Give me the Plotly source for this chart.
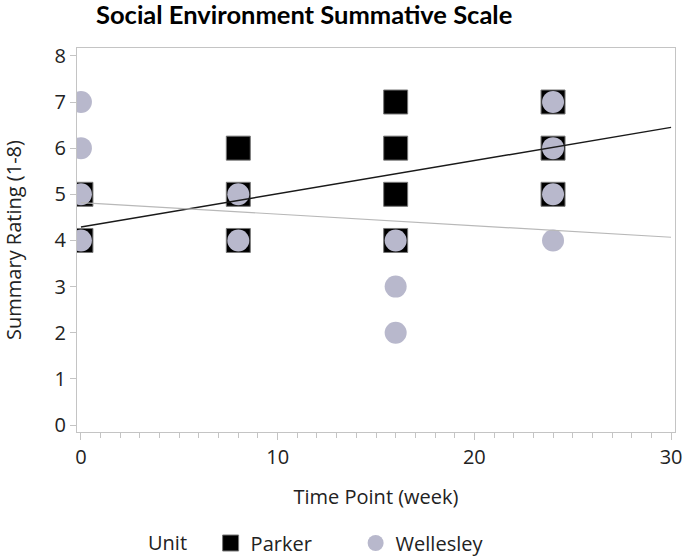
import plotly.graph_objects as go

# Data
parker_week = [0, 0, 8, 8, 8, 16, 16, 16, 16, 24, 24, 24]
parker_rating = [4, 5, 4, 5, 6, 4, 5, 6, 7, 5, 6, 7]
wellesley_week = [0, 0, 0, 0, 8, 8, 16, 16, 16, 24, 24, 24, 24]
wellesley_rating = [4, 5, 6, 7, 4, 5, 2, 3, 4, 4, 5, 6, 7]

# Fitted regression lines (endpoints)
fit_x = [0, 30]
parker_fit = [4.29, 6.45]
wellesley_fit = [4.82, 4.07]

x_ticks = [0, 10, 20, 30]
y_ticks = [0, 1, 2, 3, 4, 5, 6, 7, 8]

FONT = "Open Sans"
circle_col = "#B8B8CC"

fig = go.Figure()
fig.add_trace(go.Scatter(x=parker_week, y=parker_rating, mode="markers", name="Parker",
                         marker=dict(symbol="square", size=24, color="black",
                                     line=dict(color="#777777", width=1))))
fig.add_trace(go.Scatter(x=wellesley_week, y=wellesley_rating, mode="markers", name="Wellesley",
                         marker=dict(symbol="circle", size=22, color=circle_col,
                                     line=dict(width=0))))
fig.add_trace(go.Scatter(x=fit_x, y=parker_fit, mode="lines", showlegend=False,
                         line=dict(color="#1a1a1a", width=1.5), hoverinfo="skip"))
fig.add_trace(go.Scatter(x=fit_x, y=wellesley_fit, mode="lines", showlegend=False,
                         line=dict(color="#b8b8b8", width=1.2), hoverinfo="skip"))

fig.update_layout(
    width=685, height=557,
    margin=dict(l=77, r=10, t=48, b=125, autoexpand=False),
    paper_bgcolor="white", plot_bgcolor="white",
    font=dict(family=FONT, color="#222222"),
    title=dict(text="<b>Social Environment Summative Scale</b>",
               x=96/685, xanchor="left", y=1-15/557, yanchor="middle",
               font=dict(family="Lato", size=25.5, color="black")),
    xaxis=dict(range=[-0.2, 30.2], tickvals=x_ticks, showgrid=False, zeroline=False,
               automargin=False,
               showline=True, mirror=True, linecolor="#c4c4c4", linewidth=1,
               ticks="outside", ticklen=7, tickcolor="#c4c4c4",
               minor=dict(dtick=1, ticks="outside", ticklen=5, tickcolor="#c4c4c4"),
               tickfont=dict(size=20, color="#222222"),
               title=dict(text="Time Point (week)", font=dict(size=20), standoff=20)),
    yaxis=dict(range=[-0.15, 8.17], tickvals=y_ticks, showgrid=False, zeroline=False,
               automargin=False,
               showline=True, mirror=True, linecolor="#c4c4c4", linewidth=1,
               ticks="outside", ticklen=6, tickcolor="#c4c4c4",
               tickfont=dict(size=20, color="#222222"),
               title=dict(text="Summary Rating (1-8)", font=dict(size=20), standoff=28)),
    legend=dict(orientation="h", x=(146-77)/598, xanchor="left",
                y=-(543-432)/384, yanchor="middle",
                title=dict(text="Unit   ", side="left", font=dict(size=20)),
                font=dict(size=20), entrywidth=100, itemsizing="trace"),
    showlegend=True,
)

fig.write_html("out.html", config={"displayModeBar": False},
               post_script="document.body.style.margin='0';document.body.style.overflow='hidden';")
